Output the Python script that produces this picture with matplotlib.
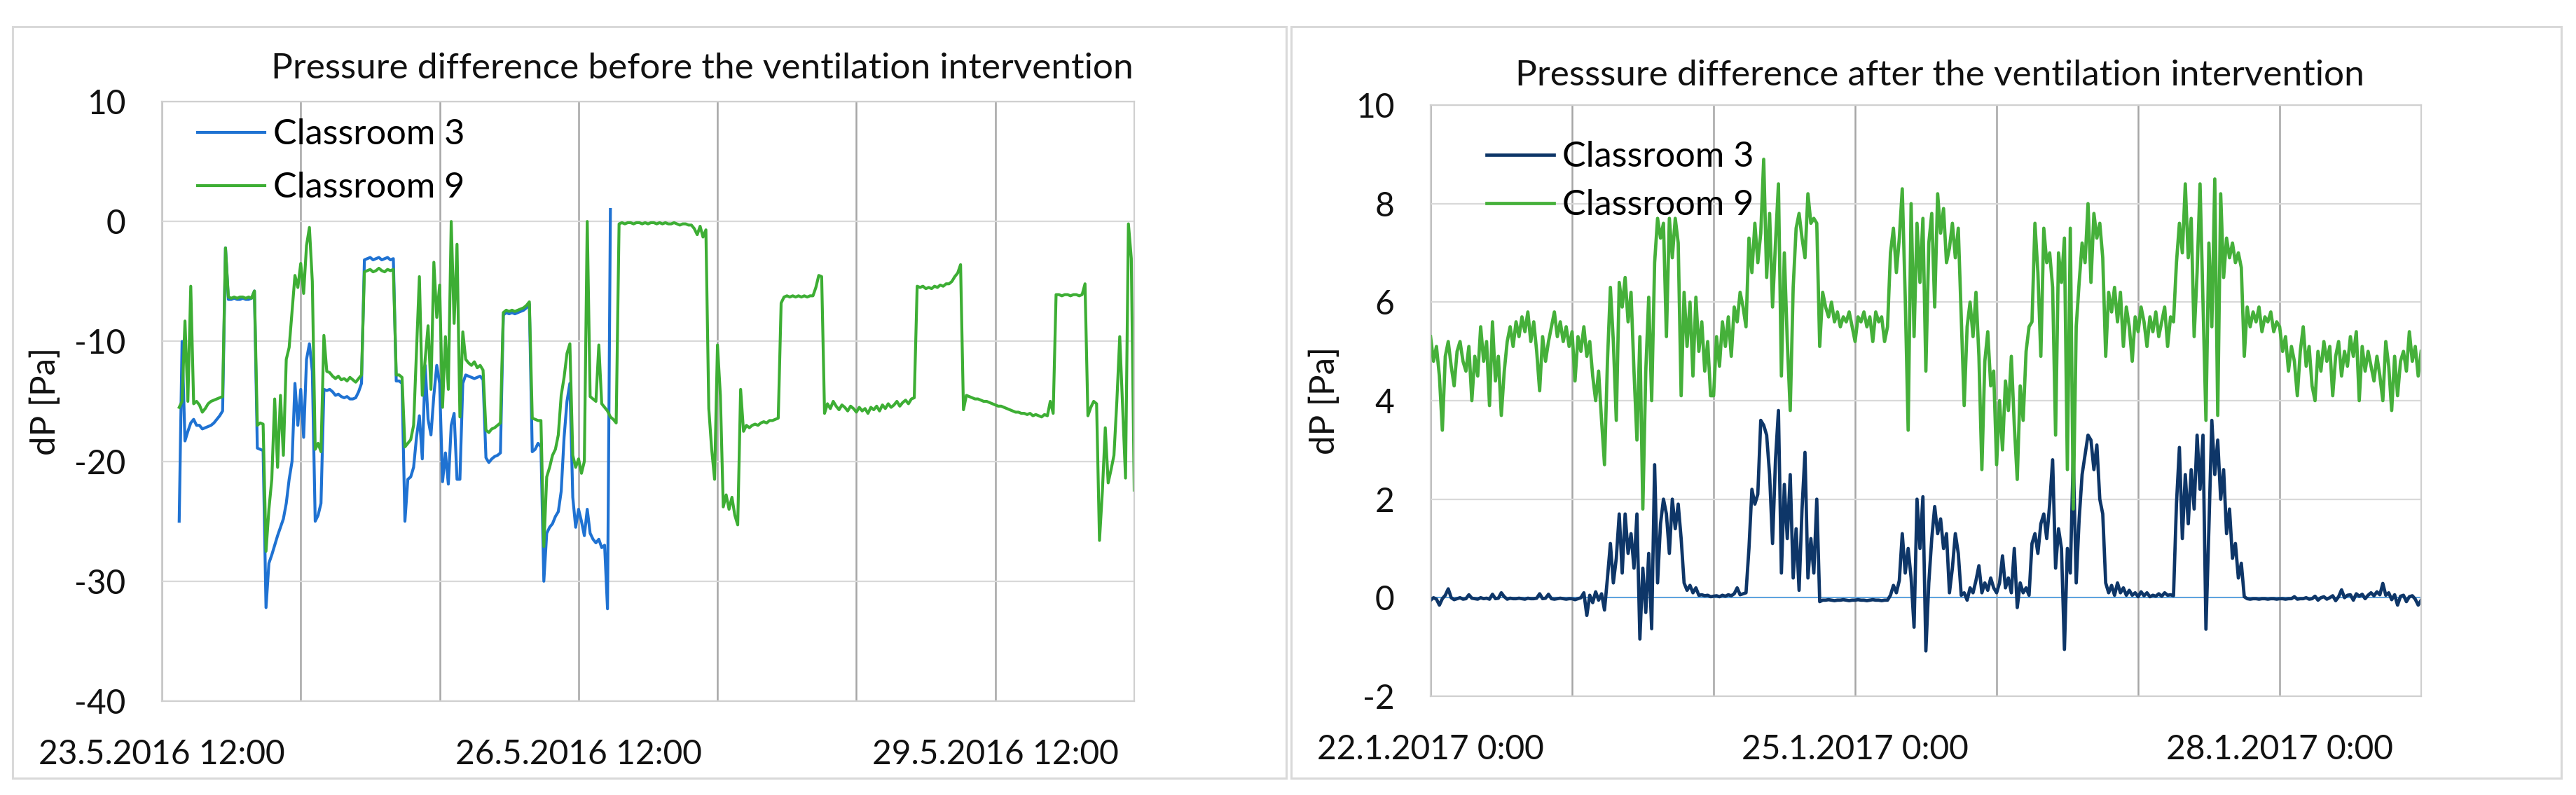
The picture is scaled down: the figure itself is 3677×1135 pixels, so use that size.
import numpy as np
import pandas as pd
import matplotlib
matplotlib.use('Agg')
import matplotlib.pyplot as plt
from matplotlib.patches import Rectangle

plt.rcParams['font.family'] = ['Lato', 'DejaVu Sans']
plt.rcParams['font.size'] = 34.5
plt.rcParams['axes.unicode_minus'] = False

# dP readings every 30 min, before the intervention (start 23.5.2016 15:00)
before_start = '2016-05-23 15:00'
before_c3 = [
    -25.0, -10.0, -18.3, -17.5, -16.8, -16.5, -17.0, -17.0, -17.3, -17.2, -17.1, -17.0,
    -16.8, -16.5, -16.2, -15.8, -2.2, -6.5, -6.5, -6.4, -6.5, -6.5, -6.4, -6.5,
    -6.5, -6.4, -5.8, -18.9, -19.0, -19.1, -32.2, -28.5, -27.8, -27.0, -26.2, -25.5,
    -24.8, -23.5, -21.5, -20.0, -13.5, -17.0, -14.0, -18.0, -11.5, -10.2, -12.5, -25.0,
    -24.5, -23.5, -14.0, -14.1, -14.0, -14.2, -14.5, -14.4, -14.6, -14.7, -14.6, -14.8,
    -14.8, -14.7, -14.2, -13.5, -3.2, -3.1, -3.0, -3.2, -3.1, -3.0, -3.2, -3.1,
    -3.0, -3.2, -3.1, -13.3, -13.3, -13.5, -25.0, -21.5, -21.3, -20.5, -18.0, -16.2,
    -19.8, -12.0, -16.5, -17.8, -14.5, -12.0, -13.5, -21.7, -19.3, -21.9, -17.0, -16.0,
    -21.5, -21.5, -13.5, -12.8, -12.9, -13.0, -13.1, -13.0, -12.9, -13.2, -19.7, -20.1,
    -19.8, -19.6, -19.5, -19.3, -7.8, -7.6, -7.7, -7.6, -7.7, -7.6, -7.5, -7.4,
    -7.2, -6.9, -19.2, -19.0, -18.5, -18.8, -30.0, -26.0, -25.5, -25.2, -24.6, -24.2,
    -22.5, -18.0, -15.0, -13.5, -23.0, -25.5, -24.0, -25.0, -26.2, -24.0, -26.0, -26.5,
    -26.8, -26.5, -27.2, -27.0, -32.3, 1.0]
before_c9 = [
    -15.5, -15.0, -8.3, -15.0, -5.4, -15.2, -15.0, -15.3, -15.9, -15.6, -15.2, -15.0,
    -14.9, -14.8, -14.7, -14.6, -2.2, -6.3, -6.4, -6.3, -6.4, -6.3, -6.3, -6.4,
    -6.3, -6.4, -5.8, -17.0, -16.8, -16.9, -27.5, -24.0, -21.5, -14.8, -20.5, -14.5,
    -19.5, -11.5, -10.5, -7.5, -4.5, -5.5, -3.5, -6.0, -2.0, -0.5, -5.0, -19.0,
    -18.5, -19.2, -9.5, -12.5, -12.6, -12.9, -13.1, -12.9, -13.2, -13.1, -13.3, -13.0,
    -13.2, -13.4, -13.1, -12.8, -4.2, -4.1, -4.0, -4.2, -4.1, -3.9, -4.1, -4.2,
    -4.0, -4.1, -4.0, -12.8, -12.8, -13.0, -18.8, -18.5, -18.2, -17.0, -10.8, -4.6,
    -14.5, -11.5, -8.7, -14.0, -3.4, -8.0, -5.3, -15.5, -9.6, -14.0, 0.0, -8.5,
    -1.9, -16.3, -9.2, -11.5, -11.8, -12.0, -11.7, -12.2, -12.0, -12.4, -17.4, -17.6,
    -17.3, -17.2, -17.0, -16.8, -7.6, -7.4, -7.5, -7.4, -7.5, -7.4, -7.3, -7.2,
    -7.0, -6.7, -16.4, -16.5, -16.6, -16.6, -27.1, -21.3, -20.5, -19.5, -19.0, -17.8,
    -14.5, -13.0, -11.0, -10.2, -19.5, -20.5, -19.8, -21.0, -20.0, 0.0, -14.6, -14.8,
    -15.0, -10.3, -15.2, -15.5, -15.8, -16.3, -16.5, -16.8, -0.2, -0.1, -0.2, -0.1,
    -0.1, -0.2, -0.1, -0.1, -0.2, -0.1, -0.2, -0.1, -0.1, -0.2, -0.1, -0.2,
    -0.1, -0.2, -0.2, -0.1, -0.2, -0.3, -0.2, -0.2, -0.3, -0.3, -0.6, -1.1,
    -0.4, -1.3, -0.7, -15.6, -19.0, -21.5, -10.3, -14.5, -23.8, -22.8, -24.0, -23.0,
    -24.5, -25.3, -14.0, -17.5, -17.0, -17.2, -17.0, -16.9, -17.0, -16.8, -16.7, -16.8,
    -16.6, -16.6, -16.5, -16.4, -6.8, -6.3, -6.2, -6.3, -6.2, -6.3, -6.2, -6.3,
    -6.2, -6.3, -6.2, -6.2, -5.5, -4.5, -4.6, -16.0, -15.2, -15.6, -15.0, -15.4,
    -15.7, -15.3, -15.5, -15.8, -15.4, -15.6, -15.9, -15.5, -15.8, -15.6, -16.0, -15.5,
    -15.7, -15.4, -15.8, -15.3, -15.6, -15.2, -15.5, -15.3, -15.0, -15.4, -15.1, -14.9,
    -15.2, -14.8, -14.7, -5.4, -5.5, -5.4, -5.6, -5.5, -5.6, -5.4, -5.5, -5.3,
    -5.4, -5.2, -5.2, -5.0, -4.6, -4.3, -3.6, -15.7, -14.5, -14.6, -14.7, -14.8,
    -14.8, -14.9, -15.0, -15.0, -15.1, -15.2, -15.3, -15.4, -15.4, -15.5, -15.6, -15.7,
    -15.8, -15.9, -15.9, -16.0, -16.0, -16.1, -16.0, -16.2, -16.1, -16.2, -16.3, -16.1,
    -16.2, -15.0, -16.0, -6.1, -6.1, -6.2, -6.1, -6.1, -6.2, -6.1, -6.1, -6.2,
    -6.1, -5.2, -16.2, -15.5, -15.0, -15.2, -26.6, -22.5, -17.2, -21.8, -20.7, -19.5,
    -15.0, -9.6, -15.5, -21.4, -0.2, -3.1, -22.4]

# dP readings every 30 min, after the intervention (start 22.1.2017 0:00)
after_start = '2017-01-22 00:00'
after_c3 = [
    -0.05, 0.0, -0.03, -0.15, -0.02, 0.05, 0.18, 0.0, -0.04, -0.02, 0.0, -0.03,
    -0.02, 0.06, -0.01, -0.02, -0.03, 0.0, -0.02, -0.01, -0.03, 0.07, -0.02, -0.01,
    0.1, 0.02, -0.03, -0.01, -0.02, -0.02, -0.01, -0.02, -0.03, -0.01, -0.02, -0.02,
    -0.01, 0.08, -0.02, -0.01, 0.07, -0.02, -0.03, -0.02, -0.01, -0.02, -0.03, -0.02,
    -0.02, -0.04, -0.02, 0.0, 0.1, -0.36, 0.05, -0.1, 0.12, -0.05, 0.08, -0.25,
    0.4, 1.1, 0.3, 0.8, 1.7, 0.5, 1.7, 0.9, 1.3, 0.6, 1.7, -0.84,
    0.6, -0.3, 0.9, -0.63, 2.7, 0.3, 1.5, 2.0, 1.7, 0.9, 2.0, 1.4,
    1.9, 1.2, 0.3, 0.15, 0.25, 0.1, 0.2, 0.05, 0.06, 0.04, 0.05, 0.02,
    0.03, 0.04, 0.02, 0.05, 0.03, 0.06, 0.04, 0.08, 0.2, 0.06, 0.08, 0.1,
    1.0, 2.2, 1.9, 2.1, 3.6, 3.5, 3.3, 2.5, 1.1, 2.8, 3.8, 0.5,
    2.3, 1.2, 2.5, 0.4, 1.4, 0.15, 1.8, 2.95, 0.4, 1.2, 0.5, 2.0,
    -0.08, -0.05, -0.05, -0.04, -0.05, -0.06, -0.05, -0.05, -0.04, -0.05, -0.06, -0.05,
    -0.05, -0.04, -0.05, -0.05, -0.06, -0.05, -0.04, -0.05, -0.05, -0.06, -0.05, -0.05,
    0.05, 0.25, 0.1, 0.35, 1.3, 0.5, 1.0, 0.4, -0.6, 2.0, 1.0, 2.05,
    -1.08, 0.3, 1.2, 1.85, 1.3, 1.6, 1.0, 1.3, 0.1, 0.6, 1.3, 0.9,
    0.05, 0.1, -0.05, 0.2, 0.1, 0.35, 0.65, 0.1, 0.3, 0.15, 0.4, 0.2,
    0.1, 0.3, 0.85, 0.2, 0.4, 0.1, 1.0, -0.2, 0.3, 0.1, 0.2, 0.05,
    1.1, 1.3, 0.9, 1.5, 1.7, 1.2, 1.9, 2.8, 0.6, 1.4, 1.0, -1.05,
    1.0, 0.5, 2.9, 0.3, 1.6, 2.5, 2.9, 3.3, 3.2, 2.6, 3.1, 2.0,
    1.7, 0.3, 0.1, 0.25, 0.05, 0.3, 0.1, 0.2, 0.05, 0.15, 0.05, 0.1,
    0.02, 0.12, 0.04, 0.1, 0.02, 0.05, 0.03, 0.08, 0.03, 0.1, 0.05, 0.06,
    0.04, 1.9, 3.05, 1.2, 2.5, 1.5, 2.6, 1.8, 3.3, 2.2, 3.3, -0.64,
    1.4, 3.6, 2.5, 3.2, 2.0, 2.6, 1.3, 1.8, 0.8, 1.1, 0.4, 0.7,
    0.02, -0.02, -0.03, -0.02, -0.02, -0.03, -0.02, -0.02, -0.03, -0.02, -0.02, -0.03,
    -0.02, -0.02, -0.03, -0.02, -0.02, 0.02, -0.03, -0.02, -0.02, 0.0, -0.03, -0.02,
    0.03, -0.05, 0.0, 0.02, -0.03, 0.0, 0.04, -0.06, 0.02, 0.16, 0.0, 0.05,
    0.06, -0.05, 0.08, 0.03, 0.07, -0.02, 0.05, 0.1, 0.04, 0.12, 0.06, 0.29,
    0.05, 0.1, -0.04, 0.06, -0.15, 0.03, 0.05, -0.08, 0.02, 0.04, -0.03, -0.15,
    -0.05]
after_c9 = [
    5.3, 4.8, 5.1, 4.5, 3.4, 4.9, 5.2, 4.7, 4.3, 5.0, 5.2, 4.8,
    4.6, 5.1, 4.0, 4.9, 4.5, 5.5, 4.8, 5.2, 3.9, 5.6, 4.4, 4.9,
    3.7, 4.6, 5.2, 5.5, 5.1, 5.6, 5.3, 5.7, 5.4, 5.8, 5.2, 5.6,
    5.0, 4.2, 5.3, 4.8, 5.2, 5.5, 5.8, 5.3, 5.6, 5.2, 5.5, 5.1,
    5.4, 4.4, 5.3, 5.0, 5.5, 4.9, 5.2, 4.5, 4.0, 4.6, 3.6, 2.7,
    4.8, 6.3, 5.2, 3.6, 6.4, 5.9, 6.5, 5.6, 6.2, 4.6, 3.2, 5.3,
    1.8, 4.6, 6.1, 4.0, 6.8, 7.7, 7.3, 7.6, 5.3, 7.7, 6.9, 7.7,
    7.2, 4.1, 6.2, 5.1, 6.0, 4.5, 6.1, 5.0, 5.6, 4.6, 5.2, 4.1,
    4.1, 5.3, 4.7, 5.6, 5.1, 5.7, 4.9, 5.9, 5.6, 6.2, 5.9, 5.5,
    7.3, 6.6, 7.6, 6.8, 7.4, 8.9, 6.5, 7.8, 5.9, 7.2, 8.4, 4.5,
    7.0, 5.2, 3.8, 6.3, 7.5, 7.8, 7.3, 6.9, 8.2, 7.6, 7.7, 7.6,
    5.1, 6.2, 5.9, 5.7, 6.0, 5.6, 5.8, 5.5, 5.7, 5.6, 5.8, 5.5,
    5.2, 5.7, 5.6, 5.8, 5.5, 5.7, 5.2, 5.8, 5.6, 5.7, 5.2, 5.5,
    7.0, 7.5, 6.6, 7.3, 8.3, 6.1, 3.4, 8.0, 5.3, 7.6, 6.4, 7.7,
    4.6, 7.2, 7.8, 5.9, 8.2, 7.4, 7.9, 6.8, 7.1, 7.6, 6.9, 7.5,
    5.7, 3.9, 5.5, 6.0, 5.3, 6.2, 4.9, 2.6, 4.8, 5.4, 4.3, 4.6,
    2.7, 4.0, 3.0, 4.4, 3.8, 4.9, 3.5, 2.4, 4.3, 3.6, 5.0, 5.5,
    5.6, 7.6, 6.6, 4.9, 7.5, 6.8, 7.0, 6.3, 3.3, 7.0, 6.4, 7.3,
    2.6, 7.5, 1.8, 5.5, 6.4, 7.2, 6.8, 8.0, 6.4, 7.8, 7.3, 7.6,
    6.9, 4.9, 6.2, 5.8, 6.3, 5.6, 6.2, 5.1, 5.9, 5.5, 4.8, 5.7,
    5.4, 5.9, 5.6, 5.1, 5.7, 5.4, 5.8, 5.3, 5.6, 5.9, 5.1, 5.7,
    5.6, 6.8, 7.6, 7.0, 8.4, 6.9, 7.7, 5.3, 6.6, 8.4, 6.0, 3.6,
    7.2, 5.5, 8.5, 3.7, 8.2, 6.5, 7.3, 6.9, 7.2, 6.8, 7.0, 6.7,
    4.9, 5.9, 5.5, 5.8, 5.6, 5.9, 5.4, 5.7, 5.6, 5.8, 5.4, 5.6,
    5.5, 5.0, 5.3, 4.6, 5.1, 4.8, 4.1, 5.0, 5.5, 4.7, 5.1, 4.3,
    4.0, 5.0, 4.6, 5.2, 4.8, 5.1, 4.1, 4.9, 5.2, 4.5, 5.0, 4.7,
    5.3, 4.9, 5.4, 4.0, 5.1, 4.6, 5.0, 4.7, 4.4, 4.9, 4.5, 4.0,
    5.2, 4.7, 3.8, 4.9, 4.1, 4.8, 5.0, 4.6, 5.4, 4.8, 5.1, 4.5,
    5.0]

series_names = ['Classroom 3', 'Classroom 9']

before_days = pd.date_range('2016-05-23 12:00', periods=8, freq='D')
before_labels = ['23.5.2016 12:00', '', '', '26.5.2016 12:00', '', '', '29.5.2016 12:00', '']
before_yticks = [-40, -30, -20, -10, 0, 10]

after_days = pd.date_range('2017-01-22 00:00', periods=8, freq='D')
after_labels = ['22.1.2017 0:00', '', '', '25.1.2017 0:00', '', '', '28.1.2017 0:00', '']
after_yticks = [-2, 0, 2, 4, 6, 8, 10]


def style_axes(ax, days, labels, yticks, ylab_x):
    ax.set_xlim(days[0], days[-1])
    ax.set_ylim(yticks[0], yticks[-1])
    ax.set_xticks(days)
    ax.set_xticklabels(labels)
    ax.set_yticks(yticks)
    ax.tick_params(length=0, labelsize=34.5, colors='#111111')
    ax.tick_params(axis='x', pad=39)
    ax.tick_params(axis='y', pad=37)
    ax.grid(axis='y', color='#D9D9D9', lw=1.6)
    ax.grid(axis='x', color='#A6A6A6', lw=1.8)
    ax.set_axisbelow(True)
    for sp in ax.spines.values():
        sp.set_color('#D0D0D0')
        sp.set_linewidth(1.6)
    ax.set_ylabel('dP [Pa]', va='center', color='#111111', fontsize=35.5)
    ax.yaxis.set_label_coords(ylab_x, 0.5)


def fit_width(txt, target_px):
    # scale a text so that it spans the same width as in the original
    w = txt.get_window_extent(fig.canvas.get_renderer()).width
    txt.set_fontsize(txt.get_fontsize() * target_px / w)


fig = plt.figure(figsize=(36.77, 11.35), dpi=100)

# panel frames
for x0, w in [(0.0049, 0.4944), (0.5012, 0.4931)]:
    fig.add_artist(Rectangle((x0, 0.0211), w, 0.9454, transform=fig.transFigure,
                             fill=False, ec='#D9D9D9', lw=2.2))

ax1 = fig.add_axes([0.06282, 0.11806, 0.37748, 0.75419])
t1a = pd.date_range(before_start, periods=len(before_c3), freq='30min')
t1b = pd.date_range(before_start, periods=len(before_c9), freq='30min')
ax1.plot(t1a, before_c3, color='#1F72D2', lw=3.0, solid_joinstyle='round', label=series_names[0])
ax1.plot(t1b, before_c9, color='#3DAE34', lw=3.0, solid_joinstyle='round', label=series_names[1])
style_axes(ax1, before_days, before_labels, before_yticks, -0.12)
leg1 = ax1.legend(loc='upper left', bbox_to_anchor=(0.0367, 0.972), frameon=False,
                  handlelength=2.0, handletextpad=0.25, labelspacing=0.62,
                  borderaxespad=0, borderpad=0)
title1 = fig.text(0.2725, 0.9013, 'Pressure difference before the ventilation intervention',
                  ha='center', va='baseline', color='#111111')

ax2 = fig.add_axes([0.55534, 0.12423, 0.38455, 0.74361])
t2 = pd.date_range(after_start, periods=len(after_c3), freq='30min')
ax2.axhline(0, color='#5BA3E0', lw=1.4, zorder=1.5)
ax2.plot(t2, after_c3, color='#0E3668', lw=3.4, solid_joinstyle='round', label=series_names[0])
ax2.plot(t2, after_c9, color='#45B03A', lw=3.4, solid_joinstyle='round', label=series_names[1])
style_axes(ax2, after_days, after_labels, after_yticks, -0.1068)
leg2 = ax2.legend(loc='upper left', bbox_to_anchor=(0.0566, 0.940), frameon=False,
                  handlelength=2.0, handletextpad=0.25, labelspacing=0.48,
                  borderaxespad=0, borderpad=0)
title2 = fig.text(0.7531, 0.8925, 'Presssure difference after the ventilation intervention',
                  ha='center', va='baseline', color='#111111')

fig.canvas.draw()
fit_width(title1, 1230)
fit_width(title2, 1211)
for t in leg1.get_texts() + leg2.get_texts():
    fit_width(t, 273)

fig.savefig('out.png', dpi=100)
